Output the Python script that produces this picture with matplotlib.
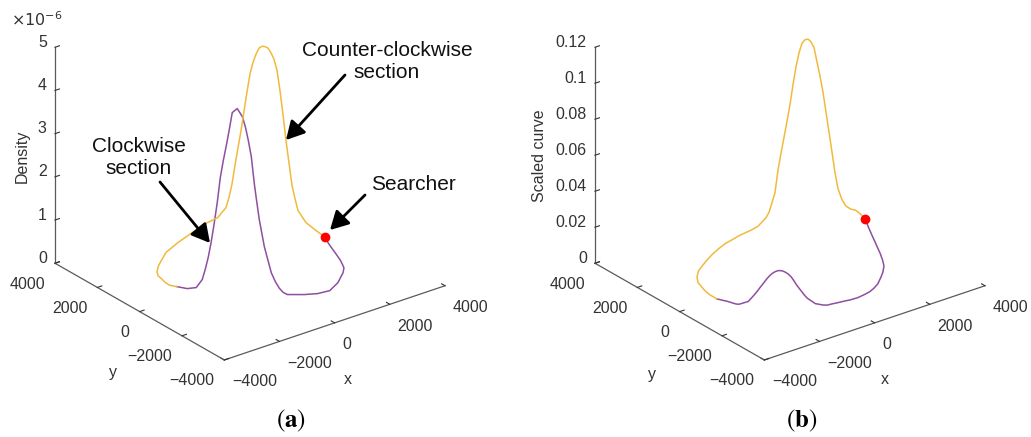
import numpy as np
import matplotlib.pyplot as plt
from matplotlib.patches import FancyArrowPatch
from matplotlib.ticker import FixedLocator, FuncFormatter

plt.rcParams['font.family'] = ['Liberation Sans', 'DejaVu Sans']

# path of the searcher (x, y) and the two curves along it
# counter-clockwise section: searcher -> meeting point
ccw_x = [3036, 3097, 3102, 3108, 3073, 3062, 3010, 2981, 2953, 2900, 2847, 2795,
         2742, 2689, 2637, 2584, 2531, 2475, 2418, 2358, 2289, 2220, 2152, 2083,
         2015, 1946, 1877, 1809, 1740, 1652, 1523, 1272, 1021, 724, 467, 210,
         -109, -429, -789, -1125, -1502, -1856, -2192, -2539, -2751, -2893, -2961,
         -3006, -2974]
ccw_y = [412, 691, 932, 1173, 1363, 1535, 1656, 1759, 1863, 1936, 2009, 2082,
         2155, 2228, 2301, 2374, 2446, 2514, 2582, 2645, 2697, 2750, 2802, 2855,
         2907, 2960, 3012, 3065, 3117, 3144, 3120, 2986, 2851, 2752, 2704, 2655,
         2574, 2492, 2359, 2208, 2007, 1787, 1473, 1086, 758, 459, 184,
         -108, -418]
ccw_density = [0.100, 0.079, 0.093, 0.116, 0.162, 0.255, 0.370, 0.625, 0.903, 1.414,
               1.926, 2.514, 3.060, 3.523, 3.771, 3.910, 4.012, 4.039, 4.042, 3.995,
               3.856, 3.667, 3.403, 2.986, 2.542, 2.083, 1.688, 1.289, 0.850, 0.549,
               0.347, 0.324, 0.301, 0.324, 0.324, 0.296, 0.278, 0.255, 0.255, 0.252,
               0.273, 0.208, 0.255, 0.301, 0.347, 0.417, 0.417, 0.428, 0.475]
ccw_scaled = [0.0126, 0.0128, 0.0134, 0.0124, 0.0130, 0.0155, 0.0211, 0.0295, 0.0402,
              0.0511, 0.0620, 0.0728, 0.0816, 0.0892, 0.0970, 0.1000, 0.1013, 0.1008,
              0.0987, 0.0933, 0.0856, 0.0756, 0.0647, 0.0553, 0.0464, 0.0375, 0.0282,
              0.0156, 0.0101, 0.0049, 0.0027, 0.0025, 0.0023, 0.0026, 0.0027, 0.0028,
              0.0027, 0.0027, 0.0024, 0.0021, 0.0017, 0.0014, 0.0033, 0.0044, 0.0044,
              0.0058, 0.0053, 0.0051, 0.0046]

# clockwise section: searcher -> meeting point
cw_x = [3036, 2961, 2853, 2705, 2557, 2414, 2205, 1947, 1662, 1414, 1183, 972, 718,
        418, 138, -79, -307, -496, -607, -719, -810, -902, -993, -1085, -1153,
        -1222, -1268, -1336, -1382, -1450, -1519, -1588, -1656, -1725, -1771, -1816,
        -1885, -1953, -2022, -2091, -2159, -2228, -2296, -2365, -2434, -2502, -2571,
        -2639, -2688, -2760, -2834, -2909, -2974]
cw_y = [412, 143, -183, -560, -936, -1235, -1565, -1857, -2129, -2306, -2415, -2499,
        -2590, -2646, -2677, -2674, -2639, -2600, -2556, -2511, -2441, -2371, -2301,
        -2231, -2179, -2126, -2091, -2039, -2004, -1951, -1899, -1846, -1794, -1741,
        -1706, -1671, -1619, -1566, -1514, -1461, -1409, -1356, -1304, -1251, -1199,
        -1146, -1094, -1041, -963, -868, -729, -590, -418]
cw_density = [0.100, 0.037, 0.025, 0.037, 0.044, 0.046, 0.116, 0.139, 0.185, 0.150,
              0.139, 0.116, 0.168, 0.208, 0.266, 0.301, 0.340, 0.370, 0.382, 0.440,
              0.539, 0.694, 0.897, 1.244, 1.505, 1.880, 2.130, 2.616, 2.963, 3.588,
              3.963, 4.288, 4.514, 4.625, 4.699, 4.662, 4.606, 4.213, 3.838, 3.488,
              3.096, 2.523, 2.051, 1.616, 1.255, 0.977, 0.741, 0.648, 0.544, 0.523,
              0.486, 0.486, 0.475]
cw_scaled = [0.0126, 0.0098, 0.0076, 0.0061, 0.0046, 0.0036, 0.0039, 0.0039, 0.0042,
             0.0030, 0.0024, 0.0022, 0.0026, 0.0027, 0.0032, 0.0036, 0.0036, 0.0036,
             0.0033, 0.0036, 0.0040, 0.0044, 0.0059, 0.0074, 0.0092, 0.0114, 0.0128,
             0.0150, 0.0168, 0.0192, 0.0208, 0.0219, 0.0226, 0.0228, 0.0226, 0.0222,
             0.0212, 0.0197, 0.0178, 0.0156, 0.0135, 0.0113, 0.0093, 0.0074, 0.0056,
             0.0051, 0.0046, 0.0041, 0.0039, 0.0043, 0.0046, 0.0047, 0.0046]

searcher_xy = (3036, 412)
searcher_density = 0.100
searcher_scaled = 0.0126

DENS_UNIT = 1e-6
xy_ticks = [-4000, -2000, 0, 2000, 4000]
density_ticks = [0, 1, 2, 3, 4, 5]
scaled_ticks = [0, 0.02, 0.04, 0.06, 0.08, 0.1, 0.12]

YELLOW = '#F0BA3C'
PURPLE = '#8E4FA0'
AXCOL = '#5a5a5a'
TXTCOL = '#333333'
FS = 11.5

W, H = 1031, 437
fig = plt.figure(figsize=(W / 100, H / 100), dpi=100)


def frac(px, py):
    # pixel position (from top left) -> figure fraction
    return px / W, (H - py) / H


def make_axes(left_px, zmax, zticks, zfmt):
    side = 406.8
    ax = fig.add_axes([left_px / W, 61.6 / H, side / W, side / H],
                      projection='3d', proj_type='ortho')
    ax.view_init(elev=26, azim=-127.5)
    ax.set_box_aspect((1, 1, 0.864), zoom=1.1)
    ax.computed_zorder = False
    ax.set_facecolor('none')
    ax.grid(False)
    ax.set_xlim(-4000, 4000)
    ax.set_ylim(-4000, 4000)
    ax.set_zlim(0, zmax)
    for axis in (ax.xaxis, ax.yaxis, ax.zaxis):
        axis.pane.set_visible(False)
        axis.line.set_color(AXCOL)
        axis.line.set_linewidth(0.9)
        axis._axinfo['tick']['inward_factor'] = 0.0
        axis._axinfo['tick']['outward_factor'] = 0.25
        axis._axinfo['tick']['linewidth'] = {True: 0.8, False: 0.5}
        axis._axinfo['tick']['color'] = AXCOL
    ax.xaxis.set_ticks_position('lower')
    ax.yaxis.set_ticks_position('lower')
    ax.xaxis.set_major_locator(FixedLocator(xy_ticks))
    ax.yaxis.set_major_locator(FixedLocator(xy_ticks))
    ax.zaxis.set_major_locator(FixedLocator(zticks))
    ax.zaxis.set_major_formatter(FuncFormatter(zfmt))
    ax.tick_params(axis='x', labelsize=FS, labelcolor=TXTCOL, colors=TXTCOL, pad=-1)
    ax.tick_params(axis='y', labelsize=FS, labelcolor=TXTCOL, colors=TXTCOL, pad=-1)
    ax.tick_params(axis='z', labelsize=FS, labelcolor=TXTCOL, colors=TXTCOL, pad=-4.8)
    plt.setp(ax.get_xticklabels(), ha='left')
    plt.setp(ax.get_yticklabels(), ha='right')
    plt.setp(ax.get_zticklabels(), ha='right', va='baseline')
    return ax


ax1 = make_axes(41.1, 5 * DENS_UNIT, [t * DENS_UNIT for t in density_ticks],
                lambda v, p: '%g' % round(v / DENS_UNIT, 6))
ax1.plot(cw_x, cw_y, np.array(cw_density) * DENS_UNIT, color=PURPLE, lw=1.1)
ax1.plot(ccw_x, ccw_y, np.array(ccw_density) * DENS_UNIT, color=YELLOW, lw=1.1)
ax1.plot([searcher_xy[0]], [searcher_xy[1]], [searcher_density * DENS_UNIT], 'o',
         color='red', ms=6)

ax2 = make_axes(581.1, 0.12, scaled_ticks, lambda v, p: '%g' % round(v, 4))
ax2.plot(cw_x, cw_y, cw_scaled, color=PURPLE, lw=1.1)
ax2.plot(ccw_x, ccw_y, ccw_scaled, color=YELLOW, lw=1.1)
ax2.plot([searcher_xy[0]], [searcher_xy[1]], [searcher_scaled], 'o',
         color='red', ms=6)

# axis titles
for (px, py), label, rot in [((22, 156), 'Density', 90), ((540, 156), 'Scaled curve', 90),
                             ((348, 380), 'x', 0), ((113, 373), 'y', 0),
                             ((885, 380), 'x', 0), ((652, 375), 'y', 0)]:
    fig.text(*frac(px, py), label, fontsize=FS, color=TXTCOL, rotation=rot,
             ha='center', va='center')

# exponent of the density axis
fig.text(*frac(11, 20), r'$\times10^{-6}$', fontsize=FS, color=TXTCOL,
         ha='left', va='center')

# annotations
fig.text(*frac(387, 62), 'Counter-clockwise\nsection', fontsize=15, ha='center',
         va='center', color='#111111')
fig.text(*frac(139, 157), 'Clockwise\nsection', fontsize=15, ha='center',
         va='center', color='#111111')
fig.text(*frac(413, 185), 'Searcher', fontsize=15, ha='center', va='center',
         color='#111111')
for tail, head in [((345, 75), (286, 140)), ((160, 182), (210, 243)),
                   ((365, 195), (330, 230))]:
    fig.add_artist(FancyArrowPatch(frac(*tail), frac(*head), transform=fig.transFigure,
                                   arrowstyle='-|>,head_length=0.55,head_width=0.3',
                                   mutation_scale=20, lw=2, color='black',
                                   shrinkA=0, shrinkB=0))

# panel captions
for cx, letter in [(291, 'a'), (802, 'b')]:
    fig.text(*frac(cx, 421), r'($\mathbf{%s}$)' % letter, fontsize=18, ha='center',
             va='center', family='STIXGeneral', math_fontfamily='stix')

fig.savefig('out.png', dpi=100)
